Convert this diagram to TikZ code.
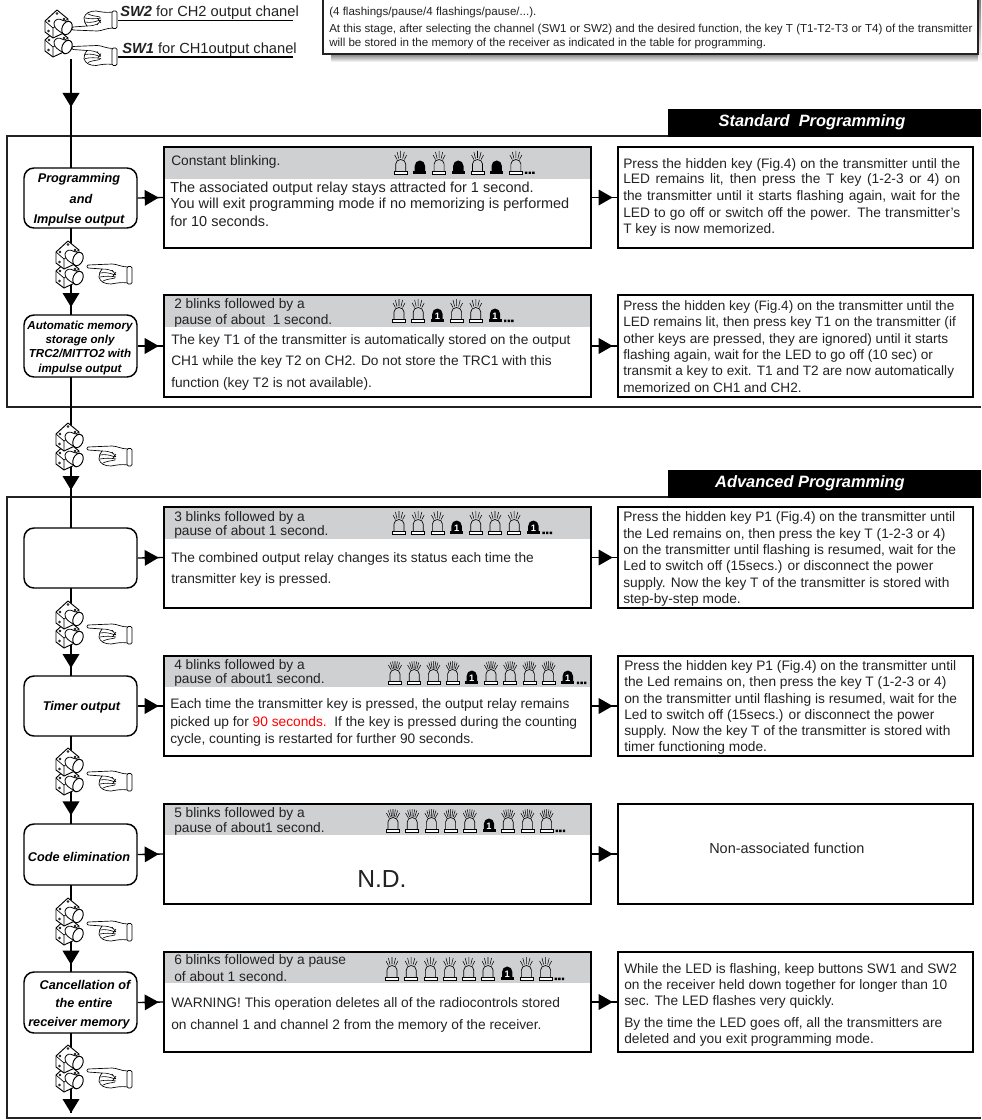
\documentclass[tikz,border=0pt]{standalone}
\usepackage{fontspec}
\setmainfont{Liberation Sans}
\usetikzlibrary{decorations.markings}
\definecolor{band}{HTML}{CFD0D2}
\definecolor{ink}{HTML}{222222}
\definecolor{shade}{HTML}{B9BABC}
\newcommand\BX[6]{\pgfmathsetmacro\bxw{(#4-#2)*0.75}\pgfmathsetmacro\bxh{(#5-#3)*0.75}%
  \node[#6,minimum width=\bxw pt,minimum height=\bxh pt] (#1) at ({(#2+#4)/2},{(#3+#5)/2}) {};}
\newcommand\T[4]{\node[lbl] (#1) at (#2,#3) {#4};}
\newcommand\TZ[5]{\node[lbl,font=\fontsize{#1pt}{12pt}\selectfont] (#2) at (#3,#4) {#5};}
\newcommand\TJ[4]{\node[lbl] (#1) at (#2,#3) {\makebox[252.75pt][s]{#4}};}
\newcommand\Row[3]{\foreach \tp [count=\ii from 0] in {#3} {%
    \edef\doit{\noexpand\pic at ({#1+19.2*\ii},#2) {\tp};}\doit
    \xdef\lastii{\ii}}%
  \pic at ({#1+19.2*\lastii+9},#2) {ldots};}
\tikzset{
  x=0.75pt,y=-0.75pt,
  lbl/.style={anchor=base west,inner sep=0pt,text=ink,font=\fontsize{10.3pt}{12pt}\selectfont},
  bi/.style={anchor=base,inner sep=0pt,text=black,font=\fontsize{9.5pt}{12pt}\selectfont\bfseries\itshape},
  bis/.style={anchor=base,inner sep=0pt,text=black,font=\fontsize{8.7pt}{11pt}\selectfont\bfseries\itshape},
  mbox/.style={draw=black,line width=0.8pt,inner sep=0pt},
  rbox/.style={draw=black,line width=1.1pt,rounded corners=7.5pt,fill=white,inner sep=0pt},
  tab/.style={fill=black,inner sep=0pt},
  tabtext/.style={inner sep=0pt,text=white,font=\fontsize{12.3pt}{14pt}\selectfont\bfseries\itshape},
  frameline/.style={draw=ink,line width=0.9pt},
  flow/.style={draw=black,line width=1pt},
  downtip/.style={flow,postaction={decorate},decoration={markings,mark=at position #1 with {\fill[black] (-10.5pt,-6.4pt)--(0pt,0pt)--(-10.5pt,6.4pt)--cycle;}}},
  righttip/.style={flow,postaction={decorate},decoration={markings,mark=at position 0.815 with {\fill[black] (-10.5pt,-6pt)--(0pt,0pt)--(-10.5pt,6pt)--cycle;}}},
  pics/litlamp/.style={code={
    \draw[line width=0.5pt,fill=white] (-6.5,0) rectangle (6.5,-2.6);
    \draw[line width=0.5pt] (-5,-2.6)--(-5,-10) arc[start angle=180,end angle=360,x radius=5,y radius=4.5]--(5,-2.6);
    \draw[line width=0.4pt] (0,-16)--(0,-23) (-2,-15.5)--(-3.6,-22) (2,-15.5)--(3.6,-22) (-3.6,-14.5)--(-6,-19) (3.6,-14.5)--(6,-19);
  }},
  pics/litdense/.style={code={
    \draw[line width=0.5pt,fill=white] (-6.5,0) rectangle (6.5,-2.6);
    \draw[line width=0.5pt] (-5,-2.6)--(-5,-10) arc[start angle=180,end angle=360,x radius=5,y radius=4.5]--(5,-2.6);
    \draw[line width=0.4pt] (0,-15.5)--(0,-23) (-1.3,-15.5)--(-2.4,-22.5) (1.3,-15.5)--(2.4,-22.5) (-2.6,-15)--(-4.6,-21.5) (2.6,-15)--(4.6,-21.5) (-3.8,-14)--(-6.6,-19) (3.8,-14)--(6.6,-19);
  }},
  pics/darklamp/.style={code={
    \fill[black] (-6.5,0) rectangle (6.5,-2.6);
    \fill[black] (-5.2,-2)--(-5.2,-8) arc[start angle=180,end angle=360,x radius=5.2,y radius=5.5]--(5.2,-2)--cycle;
  }},
  pics/darkone/.style={code={
    \fill[black] (-6.5,0) rectangle (6.5,-2.6);
    \fill[black] (-5.2,-2)--(-5.2,-8) arc[start angle=180,end angle=360,x radius=5.2,y radius=5.5]--(5.2,-2)--cycle;
    \node[inner sep=0pt,text=white,font=\fontsize{7pt}{8pt}\selectfont\bfseries] (lampdigit) at (0,-6.2) {1};
  }},
  pics/ldots/.style={code={
    \fill[black] (0,0) rectangle (2.4,-2.4) (3.6,0) rectangle (6,-2.4) (7.2,0) rectangle (9.6,-2.4);
  }},
  pics/oneblock/.style={code={
    \draw[line width=0.7pt,fill=white,line join=round] (1,12)--(13,1)--(24,10)--(24,22)--(9,29)--(1,23)--cycle;
    \draw[line width=0.5pt] (1,12)--(9,19)--(24,10) (9,19)--(9,29);
    \draw[line width=0.4pt] (5,12) circle[radius=0.9] (13,4.5) circle[radius=0.9] (20,10) circle[radius=0.9] (4.5,22) circle[radius=0.9];
    \draw[line width=0.6pt,fill=white,line join=round] (10,14) .. controls (11,10) and (15,9) .. (19,11.5)--(25,13)--(21,26)--(15,22) .. controls (12,20) and (10,18) .. (10,14)--cycle;
    \draw[line width=0.7pt,fill=white,rotate around={-25:(23,19)}] (23,19) ellipse[x radius=4.8,y radius=7];
  }},
  pics/btn/.style={code={
    \pic at (0,19) {oneblock};
    \pic at (0,0) {oneblock};
  }},
  pics/hand/.style={code={
    \draw[line width=0.5pt,fill=white,line join=round] (1,1)--(25,0)
       .. controls (30,0) and (34,3) .. (41,3)--(41,19)
       .. controls (34,18) and (30,19) .. (24,20)
       .. controls (18,20) and (13,18) .. (12,13)
       .. controls (12,10) and (13,7) .. (15,5)--(1,4)
       .. controls (-0.5,3.5) and (-0.5,1.5) .. (1,1)--cycle;
    \draw[line width=0.5pt,fill=white,rounded corners=1pt] (40,2.5) rectangle (45,20);
    \draw[line width=0.45pt] (15,5) .. controls (20,5) and (24,6) .. (27,8)
      (13,9) .. controls (18,8) and (23,9) .. (28,11)
      (13,13) .. controls (18,12) and (24,12) .. (29,13)
      (16,17) .. controls (20,15) and (24,15) .. (28,14)
      (25,6)--(29,11) (29,8)--(26,12);
  }}
}
\begin{document}
\begin{tikzpicture}
\useasboundingbox (0,0) rectangle (981,1120);
% top note
\fill[shade] (331,54) rectangle (981,62);
\fill[shade] (978,0) rectangle (981,62);
\draw[draw=ink,line width=0.8pt,fill=white] (323,-2)--(323,54)--(978,54)--(978,-2);
\TZ{8.68}{n1}{329}{16}{(4 flashings/pause/4 flashings/pause/...).}
\TZ{8.68}{n2}{329}{33}{At this stage, after selecting the channel (SW1 or SW2) and the desired function, the key T (T1-T2-T3 or T4) of the transmitter}
\TZ{8.68}{n3}{329}{47}{will be stored in the memory of the receiver as indicated in the table for programming.}
% frames
\draw[frameline] (981,136)--(7,136)--(7,407)--(981,407);
\draw[frameline] (981,497)--(7,497)--(7,1118)--(981,1118);
\BX{tabS}{668}{109}{981}{137}{tab}
\BX{tabA}{668}{470}{981}{498}{tab}
\node[tabtext] (tabStext) at (812,122) {Standard\ \ Programming};
\node[tabtext] (tabAtext) at (810,483) {Advanced Programming};
% bands
\fill[band] (164,147) rectangle (591,179);
\fill[band] (164,295) rectangle (591,327);
\fill[band] (164,507) rectangle (591,539);
\fill[band] (164,656) rectangle (591,687);
\fill[band] (164,804) rectangle (591,835);
\fill[band] (164,952) rectangle (591,983);
% middle boxes
\BX{mA}{164}{147}{591}{248}{mbox}
\BX{mB}{164}{295}{591}{397}{mbox}
\BX{mC}{164}{507}{591}{608}{mbox}
\BX{mD}{164}{656}{591}{756}{mbox}
\BX{mE}{164}{804}{591}{904}{mbox}
\BX{mF}{164}{952}{591}{1052}{mbox}
% right boxes
\BX{xA}{618}{147}{973}{248}{mbox}
\BX{xB}{618}{295}{973}{397}{mbox}
\BX{xC}{618}{507}{973}{608}{mbox}
\BX{xD}{618}{656}{973}{756}{mbox}
\BX{xE}{618}{804}{973}{904}{mbox}
\BX{xF}{618}{952}{973}{1052}{mbox}
% rounded boxes
\BX{rA}{24}{168}{137}{228}{rbox}
\BX{rB}{24}{315}{137}{377}{rbox}
\BX{rC}{24}{528}{137}{588}{rbox}
\BX{rD}{24}{676}{137}{736}{rbox}
\BX{rE}{24}{824}{137}{885}{rbox}
\BX{rF}{24}{972}{137}{1033}{rbox}
% flow connectors
\coordinate (start) at (71,59);
\coordinate (topA) at (71,168);
\coordinate (botA) at (71,228);
\coordinate (topB) at (71,315);
\coordinate (botB) at (71,377);
\coordinate (topC) at (71,528);
\coordinate (botC) at (71,588);
\coordinate (topD) at (71,676);
\coordinate (botD) at (71,736);
\coordinate (topE) at (71,824);
\coordinate (botE) at (71,885);
\coordinate (topF) at (71,972);
\coordinate (botF) at (71,1033);
\coordinate (finish) at (71,1113);
\draw[downtip=-45.75pt] (start)--(topA);
\draw[downtip=-6pt] (botA)--(topB);
\draw[downtip=-28.5pt] (botB)--(topC);
\draw[downtip=-6pt] (botC)--(topD);
\draw[downtip=-6.5pt] (botD)--(topE);
\draw[downtip=-5.5pt] (botE)--(topF);
\draw[downtip=-0.01pt] (botF)--(finish);
\foreach \n in {A,B,C,D,E,F}{
  \draw[righttip] (r\n.east)--(m\n.west);
  \draw[righttip] (m\n.east)--(x\n.west);
}
% switches and hands
\pic at (44,9) {btn};
\pic at (72,45.5) {hand};
\pic[yscale=-1] at (72,31) {hand};
\foreach \yy in {240,422,600,747,897,1044}{
  \pic at (55,\yy) {btn};
  \pic at (87,\yy+24) {hand};
}
% top labels
\TZ{11}{sw2}{120}{17}{\textbf{\textit{SW2}} for CH2 output chanel}
\TZ{11}{sw1}{122}{54}{\textbf{\textit{SW1}} for CH1output chanel}
\coordinate (u2a) at (118,20.5); \coordinate (u2b) at (293,20.5);
\coordinate (u1a) at (118,57); \coordinate (u1b) at (293,57);
\draw[line width=0.9pt] (u2a)--(u2b);
\draw[line width=0.9pt] (u1a)--(u1b);
% rounded box labels
\node[bi] (ra1) at (79,182) {Programming};
\node[bi] (ra2) at (81,203) {and};
\node[bi] (ra3) at (79,223) {Impulse output};
\node[bis] (rb1) at (80,329) {Automatic memory};
\node[bis] (rb2) at (80,343) {storage only};
\node[bis] (rb3) at (80,357) {TRC2/MITTO2 with};
\node[bis] (rb4) at (80,372) {impulse output};
\node[bi] (rd1) at (81.5,710) {Timer output};
\node[bi] (re1) at (79,861) {Code elimination};
\node[bi] (rf1) at (85,989) {Cancellation of};
\node[bi] (rf2) at (84,1007) {the entire};
\node[bi] (rf3) at (79,1026) {receiver memory};
% band and body text
\T{ma0}{171}{166}{Constant blinking.}
\TZ{10.85}{ma1}{170}{192}{The associated output relay stays attracted for 1 second.}
\TZ{10.85}{ma2}{170}{209}{You will exit programming mode if no memorizing is performed}
\TZ{10.85}{ma3}{170}{226}{for 10 seconds.}
\T{mb0}{174}{308}{2 blinks followed by a}
\T{mb00}{174}{324}{pause of about\ \ 1 second.}
\T{mb1}{171}{344}{The key T1 of the transmitter is automatically stored on the output}
\T{mb2}{171}{365}{CH1 while the key T2 on CH2. Do not store the TRC1 with this}
\T{mb3}{171}{387}{function (key T2 is not available).}
\T{mc0}{174}{521}{3 blinks followed by a}
\T{mc00}{174}{535}{pause of about 1 second.}
\T{mc1}{171}{562}{The combined output relay changes its status each time the}
\T{mc2}{171}{583}{transmitter key is pressed.}
\T{md0}{174}{669}{4 blinks followed by a}
\T{md00}{174}{683}{pause of about1 second.}
\T{md1}{170}{708}{Each time the transmitter key is pressed, the output relay remains}
\T{md2}{170}{726}{picked up for \textcolor{red}{90 seconds.}\ \ If the key is pressed during the counting}
\T{md3}{170}{743}{cycle, counting is restarted for further 90 seconds.}
\T{me0}{174}{817}{5 blinks followed by a}
\T{me00}{174}{832}{pause of about1 second.}
\TZ{18.5}{me1}{357}{887}{N.D.}
\T{mf0}{174}{964}{6 blinks followed by a pause}
\T{mf00}{174}{981}{of about 1 second.}
\T{mf1}{171}{1007}{WARNING! This operation deletes all of the radiocontrols stored}
\T{mf2}{171}{1029}{on channel 1 and channel 2 from the memory of the receiver.}
% right text
\TJ{xa1}{623}{168}{Press the hidden key (Fig.4) on the transmitter until the}
\TJ{xa2}{623}{184}{LED remains lit, then press the T key (1-2-3 or 4) on}
\TJ{xa3}{623}{200}{the transmitter until it starts flashing again, wait for the}
\TJ{xa4}{623}{217}{LED to go off or switch off the power. The transmitter's}
\T{xa5}{623}{233}{T key is now memorized.}
\TZ{10.2}{xb1}{623}{310}{Press the hidden key (Fig.4) on the transmitter until the}
\TZ{10.2}{xb2}{623}{326}{LED remains lit, then press key T1 on the transmitter (if}
\TZ{10.2}{xb3}{623}{343}{other keys are pressed, they are ignored) until it starts}
\TZ{10.2}{xb4}{623}{359}{flashing again, wait for the LED to go off (10 sec) or}
\TZ{10.2}{xb5}{623}{375}{transmit a key to exit. T1 and T2 are now automatically}
\TZ{10.2}{xb6}{623}{392}{memorized on CH1 and CH2.}
\T{xc1}{623}{521}{Press the hidden key P1 (Fig.4) on the transmitter until}
\T{xc2}{623}{538}{the Led remains on, then press the key T (1-2-3 or 4)}
\T{xc3}{623}{554}{on the transmitter until flashing is resumed, wait for the}
\T{xc4}{623}{570}{Led to switch off (15secs.) or disconnect the power}
\T{xc5}{623}{587}{supply. Now the key T of the transmitter is stored with}
\T{xc6}{623}{603}{step-by-step mode.}
\T{xd1}{624}{670}{Press the hidden key P1 (Fig.4) on the transmitter until}
\T{xd2}{624}{686}{the Led remains on, then press the key T (1-2-3 or 4)}
\T{xd3}{624}{703}{on the transmitter until flashing is resumed, wait for the}
\T{xd4}{624}{719}{Led to switch off (15secs.) or disconnect the power}
\T{xd5}{624}{735}{supply. Now the key T of the transmitter is stored with}
\T{xd6}{624}{751}{timer functioning mode.}
\TZ{10.85}{xe1}{709}{853}{Non-associated function}
\T{xf1}{624}{973}{While the LED is flashing, keep buttons SW1 and SW2}
\T{xf2}{624}{989}{on the receiver held down together for longer than 10}
\T{xf3}{624}{1005}{sec. The LED flashes very quickly.}
\T{xf4}{624}{1027}{By the time the LED goes off, all the transmitters are}
\T{xf5}{624}{1043}{deleted and you exit programming mode.}
% blink indicators
\Row{400.7}{174}{litlamp,darklamp,litlamp,darklamp,litlamp,darklamp,litlamp}
\Row{399}{322}{litlamp,litlamp,darkone,litlamp,litlamp,darkone}
\Row{399}{534}{litlamp,litlamp,litlamp,darkone,litlamp,litlamp,litlamp,darkone}
\Row{395}{684}{litdense,litdense,litdense,litdense,darkone,litdense,litdense,litdense,litdense,darkone}
\Row{393}{832}{litdense,litdense,litdense,litdense,litdense,darkone,litdense,litdense,litdense}
\Row{392}{980}{litlamp,litlamp,litlamp,litlamp,litlamp,litlamp,darkone,litlamp,litlamp}
\end{tikzpicture}
\end{document}
